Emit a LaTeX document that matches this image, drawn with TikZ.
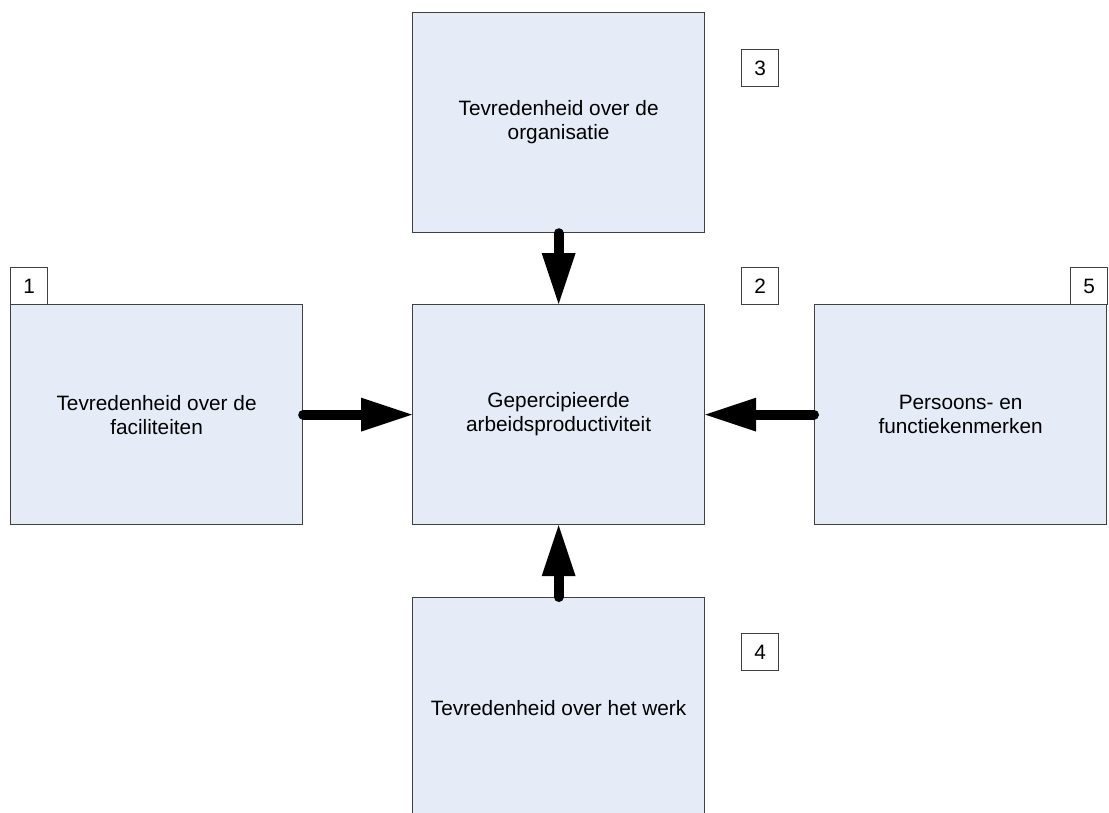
\documentclass[tikz,border=0pt]{standalone}
\usepackage{fontspec}
\setmainfont{Liberation Sans}
\usetikzlibrary{arrows.meta}
\definecolor{boxfill}{RGB}{230,236,247}
\definecolor{boxline}{RGB}{64,64,64}
\begin{document}
\begin{tikzpicture}[x=1pt,y=-1pt,
  mainbox/.style={draw=boxline,line width=1.2pt,fill=boxfill,rectangle,inner sep=0pt,
    minimum width=292pt,minimum height=220pt,anchor=north west,align=center,
    font=\fontsize{20.8}{24}\selectfont},
  numbox/.style={draw=boxline,line width=1.2pt,fill=white,rectangle,inner sep=0pt,
    minimum width=37pt,minimum height=37pt,anchor=north west,
    font=\fontsize{20.8}{24}\selectfont},
  bigarrow/.style={line width=10pt,line cap=round,-{Triangle[length=51pt,width=34pt,line width=0pt]}}]
\useasboundingbox (0,0) rectangle (1109,812);
\fill[white] (0,0) rectangle (1109,812);
\node[mainbox] (org) at (412,12) {Tevredenheid over de\\organisatie};
\node[mainbox] (fac) at (10,304) {Tevredenheid over de\\faciliteiten};
\node[mainbox] (prod) at (412,304) {Gepercipieerde\\arbeidsproductiviteit};
\node[mainbox] (pers) at (814,304) {Persoons- en\\functiekenmerken};
\node[mainbox] (werk) at (412,597) {Tevredenheid over het werk};
\node[numbox] (n3) at (741,49) {3};
\node[numbox] (n1) at (10,267) {1};
\node[numbox] (n2) at (741,267) {2};
\node[numbox] (n5) at (1070,267) {5};
\node[numbox] (n4) at (741,633) {4};
\draw[bigarrow] (org.south) -- (prod.north);
\draw[bigarrow] (fac.east) -- (prod.west);
\draw[bigarrow] (pers.west) -- (prod.east);
\draw[bigarrow] (werk.north) -- (prod.south);
\end{tikzpicture}
\end{document}
